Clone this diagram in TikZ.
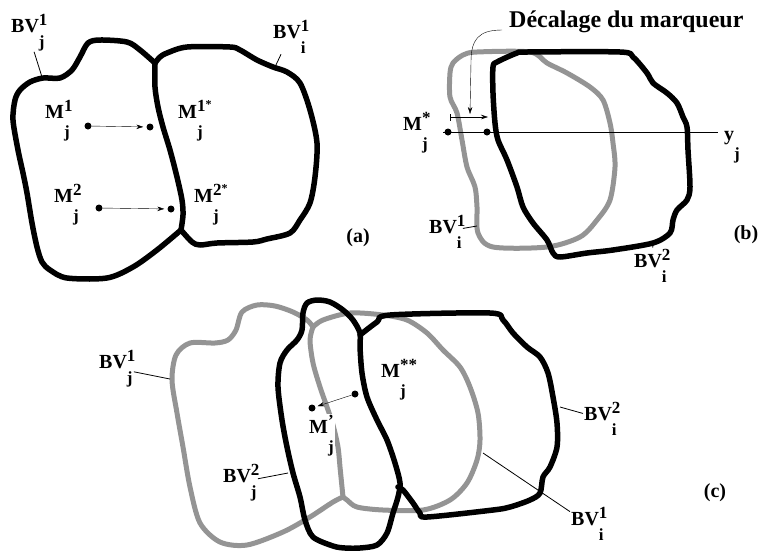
\documentclass[tikz,border=0pt]{standalone}
\usepackage{fontspec}
\setmainfont{Liberation Serif}
\usetikzlibrary{arrows.meta}
\newcommand{\supsub}[3][15pt]{\rlap{\raisebox{7pt}{\fontsize{17}{17}\selectfont #2}}\raisebox{-#1}{\fontsize{17}{17}\selectfont #3}}

\begin{document}
\begin{tikzpicture}[x=1pt,y=-1pt,>={Stealth[length=7pt,width=4.5pt]},line join=round,
  bord/.style={line width=5.5pt,line cap=round},
  oldbord/.style={bord,line width=5pt,draw=black!42},
  lbl/.style={font=\fontsize{20}{20}\selectfont\bfseries,inner sep=1pt,anchor=base west},
  tag/.style={font=\fontsize{20}{20}\selectfont\bfseries,inner sep=1pt},
  leader/.style={line width=0.8pt},
  dotm/.style={circle,fill,inner sep=0pt,minimum size=7pt}]
  \useasboundingbox (0,0) rectangle (766,550);

  % (a)
  \draw[bord] plot[smooth,tension=0.5] coordinates {(155,63) (140,50) (127,42) (100,40) (88,43) (80,57) (72,70) (60,78) (43,78) (30,82) (20,90) (15,100) (13,120) (18,150) (23,173) (27,193) (32,223) (37,247) (42,262) (50,270) (67,278) (107,278) (133,267) (157,250) (181,230)};
  \draw[bord] plot[smooth,tension=0.5] coordinates {(155,63) (155,87) (158,107) (163,127) (170,150) (177,177) (182,200) (183,215) (181,230)};
  \draw[bord] plot[smooth,tension=0.5] coordinates {(155,63) (160,57) (167,53) (187,47) (230,47) (240,50) (257,60) (273,67) (287,72) (300,83) (310,110) (317,143) (315,177) (310,203) (300,220) (290,233) (267,239) (253,242) (217,243) (200,245) (192,242) (181,230)};
  \coordinate (pa1) at (42,77);
  \coordinate (pa2) at (275,67);
  \node[lbl] (bvja) at (10,32) {BV\supsub{1}{j}};
  \node[lbl] (bvia) at (272,38) {BV\supsub{1}{i}};
  \draw[leader] (bvja) -- (pa1);
  \draw[leader] (bvia) -- (pa2);
  \node[lbl] (m1j) at (44,118) {M\supsub[19pt]{1}{j}};
  \node[lbl] (m1js) at (177,118) {M\supsub[19pt]{1\raisebox{3pt}{\fontsize{12}{12}\selectfont *}}{j}};
  \node[lbl] (m2j) at (53,202) {M\supsub[19pt]{2}{j}};
  \node[lbl] (m2js) at (193,202) {M\supsub[19pt]{2\raisebox{3pt}{\fontsize{12}{12}\selectfont *}}{j}};
  \node[dotm] (d1) at (88,126) {};
  \node[dotm] (d2) at (150,127) {};
  \node[dotm] (d3) at (99,208) {};
  \node[dotm] (d4) at (171,209) {};
  \draw[->,thin,shorten >=3pt] (d1) -- (d2);
  \draw[->,thin,shorten >=3pt] (d3) -- (d4);
  \node[tag] (la) at (358,238) {(a)};

  % (b)
  \draw[oldbord] plot[smooth cycle,tension=0.5] coordinates {(477,52) (530,52) (547,63) (567,73) (590,87) (603,100) (610,123) (613,143) (615,167) (610,200) (597,220) (580,237) (547,247) (493,247) (478,233) (477,207) (475,187) (467,167) (462,140) (457,113) (450,97) (450,73) (453,63) (463,55)};
  \draw[bord] plot[smooth cycle,tension=0.5] coordinates {(497,62) (517,53) (527,52) (620,52) (633,57) (647,73) (653,83) (667,93) (677,103) (683,117) (687,127) (688,150) (690,187) (687,200) (677,210) (673,220) (670,233) (653,243) (613,250) (587,253) (560,257) (553,253) (547,240) (533,223) (523,207) (517,187) (507,160) (498,140) (495,123) (493,93) (493,67)};
  \coordinate (ya) at (443,132);
  \coordinate (yb) at (718,132);
  \draw[thin] (ya) -- (yb);
  \node[dotm] (db1) at (448,132) {};
  \node[dotm] (db2) at (487,132) {};
  \coordinate (sh1) at (450,117);
  \coordinate (sh2) at (488,117);
  \coordinate (shft) at (470,114);
  \draw[{Bar[width=7pt]}->,thin] (sh1) -- (sh2);
  \node[lbl,font=\fontsize{24}{24}\selectfont\bfseries] (decal) at (508,27) {Décalage du marqueur};
  \draw[->,thin] ([xshift=-6pt,yshift=-3pt]decal.base west) .. controls (478,30) and (471,40) .. (471,62) -- (shft);
  \node[lbl] (msb) at (402,130) {M\supsub[19pt]{*}{j}};
  \node[lbl] (yj) at (723,140) {y\supsub[19pt]{}{j}};
  \coordinate (pb1) at (477,226);
  \coordinate (pb2) at (653,245);
  \node[lbl] (bvib) at (428,233) {BV\supsub{1}{i}};
  \node[lbl] (bv2ib) at (633,267) {BV\supsub{2}{i}};
  \draw[leader] (bvib) -- (pb1);
  \draw[leader] (bv2ib) -- (pb2);
  \node[tag] (lb) at (746,235) {(b)};

  % (c)
  \draw[oldbord] plot[smooth,tension=0.5] coordinates {(313,327) (307,320) (293,312) (275,306) (257,305) (242,312) (236,330) (228,340) (215,343) (190,343) (176,355) (172,380) (177,413) (183,447) (190,487) (200,523) (220,542) (247,545) (283,532) (310,517) (333,502) (343,497)};
  \draw[oldbord] plot[smooth,tension=0.5] coordinates {(313,327) (310,340) (313,363) (320,387) (327,407) (333,425) (338,447) (340,467) (342,487) (343,497)};
  \draw[oldbord] plot[smooth,tension=0.5] coordinates {(313,327) (323,320) (350,313) (383,315) (407,320) (427,333) (443,350) (460,367) (470,387) (478,413) (480,440) (477,460) (467,483) (450,500) (423,510) (383,510) (357,507) (347,500) (343,497)};
  \draw[bord] plot[smooth cycle,tension=0.5] coordinates {(307,303) (317,300) (330,302) (343,310) (353,320) (360,333) (360,347) (362,373) (367,397) (377,420) (387,440) (395,463) (400,483) (398,497) (393,513) (387,533) (377,545) (360,548) (345,548) (333,546) (313,537) (305,520) (300,497) (293,473) (287,447) (282,420) (278,387) (280,363) (287,350) (297,340) (302,330) (303,313)};
  \draw[bord] plot[smooth,tension=0.5] coordinates {(360,335) (377,322) (390,315) (490,313) (503,320) (513,333) (527,347) (540,357) (548,373) (553,397) (557,423) (557,447) (550,467) (543,477) (540,493) (530,500) (510,507) (493,510) (427,517) (420,513) (413,503) (403,490) (398,487)};
  \coordinate (pc1) at (170,379);
  \coordinate (pc2) at (288,473);
  \coordinate (pc3) at (560,407);
  \coordinate (pc4) at (483,453);
  \node[lbl] (bvjc) at (98,368) {BV\supsub{1}{j}};
  \node[lbl] (bv2jc) at (222,482) {BV\supsub{2}{j}};
  \node[lbl] (bv2ic) at (583,420) {BV\supsub{2}{i}};
  \node[lbl] (bv1ic) at (570,525) {BV\supsub{1}{i}};
  \draw[leader] (bvjc) -- (pc1);
  \draw[leader] (bv2jc) -- (pc2);
  \draw[leader] (bv2ic) -- (pc3);
  \draw[leader] (bv1ic) -- (pc4);
  \node[lbl] (mssc) at (380,377) {M\supsub[19pt]{**}{j}};
  \node[lbl,fill=white] (mpc) at (308,433) {M\supsub[19pt]{’}{j}};
  \node[dotm] (dc1) at (312,408) {};
  \node[dotm] (dc2) at (355,394) {};
  \draw[->,thin,shorten >=2pt] (dc2) -- (dc1);
  \node[tag] (lc) at (715,493) {(c)};
\end{tikzpicture}
\end{document}
